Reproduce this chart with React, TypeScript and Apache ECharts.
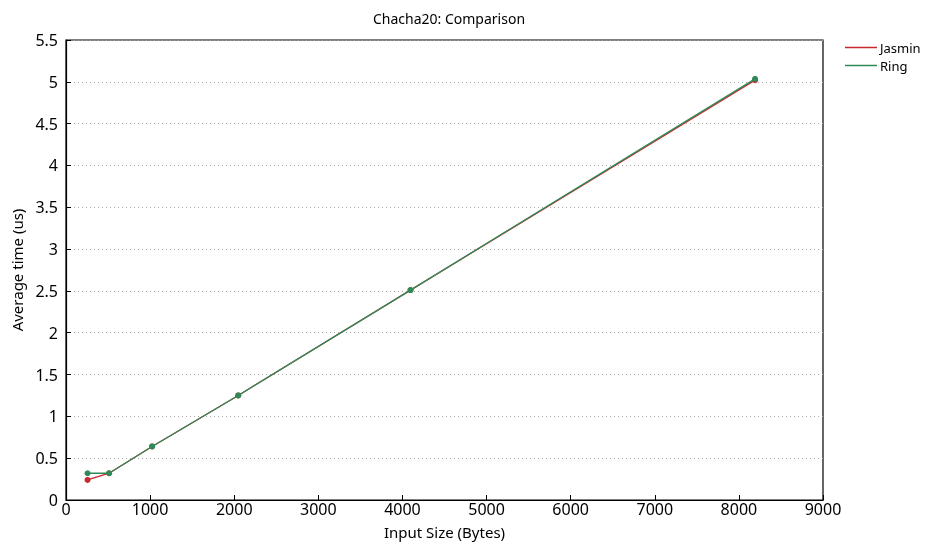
import React, { useEffect, useRef } from "react";
import * as echarts from "echarts";

const sizes = [256, 512, 1024, 2048, 4096, 8192];
const jasmin = [0.24, 0.32, 0.64, 1.25, 2.51, 5.02];
const ring = [0.32, 0.32, 0.64, 1.25, 2.51, 5.035];
const seriesNames = ["Jasmin", "Ring"];
const colors = ["#c8282d", "#2e8b57"];

export default function App() {
  const ref = useRef<HTMLDivElement>(null);
  useEffect(() => {
    const chart = echarts.init(ref.current!, null, { renderer: "svg" });
    const font = "Noto Sans";
    const mk = (name: string, vals: number[], color: string, z: number) => ({
      name,
      type: "line",
      data: sizes.map((s, i) => [s, vals[i]]),
      symbol: "circle",
      symbolSize: 6,
      z,
      lineStyle: { color, width: 1.3 },
      itemStyle: { color },
    });
    chart.setOption({
      animation: false,
      textStyle: { fontFamily: font },
      title: {
        text: "Chacha20: Comparison",
        left: 444,
        textAlign: "center",
        top: 6,
        textStyle: { fontFamily: font, fontSize: 14, fontWeight: "normal", color: "#000" },
      },
      legend: {
        orient: "vertical",
        left: 840,
        top: 36,
        itemGap: 5,
        itemWidth: 32,
        itemHeight: 1.5,
        icon: "rect",
        data: seriesNames,
        textStyle: { fontFamily: font, fontSize: 13, color: "#000", padding: [0, 0, 0, -2], lineHeight: 13 },
      },
      grid: { left: 66, right: 109, top: 40, bottom: 42, show: true, borderColor: "#000", borderWidth: 1.2 },
      xAxis: {
        type: "value",
        min: 0,
        max: 9000,
        interval: 1000,
        name: "Input Size (Bytes)",
        nameLocation: "middle",
        nameGap: 24,
        nameTextStyle: { fontFamily: font, fontSize: 15, color: "#000" },
        axisLine: { lineStyle: { color: "#000", width: 1.2 } },
        axisTick: { inside: true, length: 5, lineStyle: { color: "#000" } },
        axisLabel: { fontFamily: font, fontSize: 16, color: "#000", margin: 1, formatter: (v: number) => String(v) },
        splitLine: { show: false },
      },
      yAxis: {
        type: "value",
        min: 0,
        max: 5.5,
        interval: 0.5,
        name: "Average time (us)",
        nameLocation: "middle",
        nameGap: 40,
        nameTextStyle: { fontFamily: font, fontSize: 15, color: "#000" },
        axisLine: { lineStyle: { color: "#000", width: 1.2 } },
        axisTick: { inside: true, length: 5, lineStyle: { color: "#000" } },
        axisLabel: { fontFamily: font, fontSize: 16, color: "#000", margin: 8, formatter: (v: number) => String(v) },
        splitLine: { show: true, lineStyle: { color: "#aaa", type: [1, 3], width: 1 } },
      },
      series: [mk("Jasmin", jasmin, colors[0], 2), mk("Ring", ring, colors[1], 3)],
    });
    return () => chart.dispose();
  }, []);
  return <div ref={ref} style={{ position: "fixed", left: 0, top: 0, width: 932, height: 544 }} />;
}
